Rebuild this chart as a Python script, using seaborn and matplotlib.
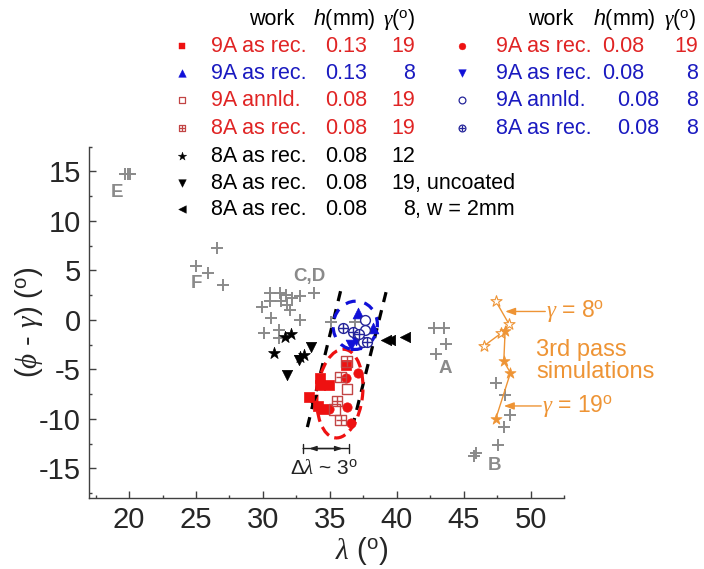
import matplotlib
matplotlib.use("Agg")
import matplotlib.pyplot as plt
from matplotlib.patches import Ellipse
from matplotlib.transforms import IdentityTransform
from matplotlib.ticker import MultipleLocator
import pandas as pd
import seaborn as sns

# ---------------- data (lambda in deg, phi-gamma in deg) ----------------
# other works (grey crosses): groups E, F, C/D, A, B
other_lam = [19.7, 19.9, 20.1,
             25.0, 25.9, 26.6, 27.0,
             30.5, 31.3, 31.7, 32.2, 32.8, 33.8, 29.95, 30.5, 31.35, 31.8, 32.0,
             30.6, 32.8, 30.1, 31.2, 31.2, 35.1, 36.9,
             42.8, 43.55, 43.7, 42.95,
             47.4, 48.1, 48.5, 48.05, 47.6, 45.9, 45.8]
other_dev = [14.7, 14.7, 14.7,
             5.4, 4.7, 7.3, 3.5,
             2.7, 2.7, 2.5, 2.2, 2.4, 2.7, 1.35, 1.9, 1.9, 1.5, 1.0,
             0.15, 0.0, -1.35, -1.0, -1.85, -0.2, -0.2,
             -0.85, -0.85, -2.4, -3.4,
             -6.4, -7.6, -9.6, -10.8, -12.6, -13.5, -13.8]
other_labels = ["E", "F", "C,D", "A", "B"]
other_label_lam = [19.1, 25.0, 33.5, 43.6, 47.3]
other_label_dev = [12.9, 3.7, 4.4, -4.9, -14.7]

# 9A as rec., h=0.13, gamma=19 (red filled squares)
sq13_lam = [36.2, 34.3, 34.3, 34.9, 33.45, 34.1, 34.5]
sq13_dev = [-4.55, -5.9, -6.6, -6.6, -7.8, -8.7, -9.0]
# 9A as rec., h=0.13, gamma=8 (blue up triangles)
tu13_lam = [37.1, 38.2]
tu13_dev = [0.7, -0.85]
# 9A annealed, h=0.08, gamma=19 (red open squares)
sqan_lam = [36.3, 35.35]
sqan_dev = [-6.95, -9.05]
# 8A as rec., h=0.08, gamma=19 (red crossed squares)
sq8a_lam = [36.25, 35.8, 35.55, 35.8]
sq8a_dev = [-4.2, -5.8, -8.2, -10.15]
# 9A as rec., h=0.08, gamma=19 (red filled circles)
ci08_lam = [37.1, 36.2, 36.3, 36.55, 34.9]
ci08_dev = [-5.35, -5.9, -8.85, -10.45, -9.0]
# 9A as rec., h=0.08, gamma=8 (blue down triangles)
td08_lam = [36.95, 36.6, 37.3]
td08_dev = [-2.0, -2.5, -2.4]
# 9A annealed, h=0.08, gamma=8 (blue open circles)
cian_lam = [37.6, 37.6, 37.45]
cian_dev = [0.0, -1.0, -2.2]
# 8A as rec., h=0.08, gamma=8 (blue crossed circles)
ci8a_lam = [35.95, 36.7, 37.2, 37.8]
ci8a_dev = [-0.85, -1.2, -1.4, -2.2]
# 8A as rec., h=0.08, gamma=12 (black stars)
st12_lam = [32.1, 31.65, 30.8, 32.8, 33.05]
st12_dev = [-1.4, -1.75, -3.3, -3.75, -3.5]
# 8A as rec., h=0.08, gamma=19 uncoated (black down triangles)
tdun_lam = [33.6, 32.7, 31.8, 33.7]
tdun_dev = [-2.75, -4.1, -5.6, -8.1]
# 8A as rec., h=0.08, gamma=8, w=2mm (black left triangles)
tlw2_lam = [39.2, 39.5, 40.6]
tlw2_dev = [-2.05, -2.05, -1.7]
# 3rd pass simulations
sim8_lam = [47.4, 48.4, 47.8, 46.55]
sim8_dev = [1.9, -0.45, -1.35, -2.6]
sim19_lam = [48.1, 48.0, 48.5, 47.4]
sim19_dev = [-1.1, -4.2, -5.35, -10.0]

# guide lines and band
guideL_lam = [35.8, 33.2]
guideL_dev = [2.9, -11.5]
guideR_lam = [39.2, 36.6]
guideR_dev = [2.8, -11.3]

# ---------------- style ----------------
RED = "#EE1111"
RED_T = "#E02424"
RED_O = "#C24545"
BLUE = "#1010D8"
BLUE_T = "#1A1AC0"
BLUE_O = "#25259A"
GREY = "#8A8A8A"
ORANGE = "#EE9435"

sns.set_theme(style="ticks")
plt.rcParams["font.family"] = ["Liberation Sans", "DejaVu Sans"]
plt.rcParams["mathtext.fontset"] = "custom"
plt.rcParams["mathtext.rm"] = "Liberation Sans"
plt.rcParams["mathtext.it"] = "Liberation Serif:italic"
plt.rcParams["mathtext.sf"] = "Liberation Sans:italic"
plt.rcParams["mathtext.bf"] = "Liberation Sans:bold"
plt.rcParams["axes.unicode_minus"] = False

W, H = 704, 569
fig = plt.figure(figsize=(W / 100, H / 100), dpi=100)
ax = fig.add_axes([89 / W, (H - 498) / H, 475 / W, 351.3 / H])
ax.set_xlim(17, 52.5)
ax.set_ylim(-18, 17.5)


def pts(target, lam, dev, marker, size, face, edge=None, lw=1.0, z=3):
    df = pd.DataFrame({"lam": lam, "dev": dev})
    kw = dict(data=df, x="lam", y="dev", marker=marker, s=size,
              linewidth=lw, ax=target, legend=False, zorder=z)
    if face == "none":
        kw.update(facecolor="none", edgecolor=edge)
    elif edge is None:
        kw.update(color=face)
    else:
        kw.update(color=face, edgecolor=edge)
    sns.scatterplot(**kw)


# guide lines
for gl, gd in [(guideL_lam, guideL_dev), (guideR_lam, guideR_dev)]:
    ln, = ax.plot(gl, gd, color="black", lw=2.3, zorder=2)
    ln.set_dashes((3.2, 2.6))


def ellipse(center, w_data, h_data, angle, color, dashes, lw=2.3):
    p0 = ax.transData.transform(center)
    px = ax.transData.transform((center[0] + 1, center[1]))[0] - p0[0]
    py = ax.transData.transform((center[0], center[1] + 1))[1] - p0[1]
    e = Ellipse(p0, w_data * px, h_data * py, angle=angle, fill=False,
                edgecolor=color, lw=lw, transform=IdentityTransform(), zorder=2)
    e.set_linestyle((0, dashes))
    ax.add_patch(e)


ellipse((35.75, -7.45), 3.4, 9.0, -6, RED, (3.4, 1.8))
ellipse((36.9, -0.55), 3.3, 4.9, -10, BLUE, (3.2, 2.8))

# grey crosses from other works
pts(ax, other_lam, other_dev, "+", 70, GREY, lw=1.4, z=2)
for t, lx, ly in zip(other_labels, other_label_lam, other_label_dev):
    ax.text(lx, ly, t, color=GREY, fontsize=13.5, fontweight="bold",
            ha="center", va="center")

# black series
pts(ax, st12_lam, st12_dev, "*", 80, "black", "black", lw=0.5)
pts(ax, tdun_lam, tdun_dev, "v", 55, "black", "black", lw=0.5)
pts(ax, tlw2_lam, tlw2_dev, "<", 55, "black", "black", lw=0.5)

# red series
pts(ax, sq13_lam, sq13_dev, "s", 55, RED, RED, lw=0.5)
pts(ax, ci08_lam, ci08_dev, "o", 45, RED, RED, lw=0.5)
pts(ax, sqan_lam, sqan_dev, "s", 55, "none", RED_O, lw=1.0, z=4)
pts(ax, sq8a_lam, sq8a_dev, "s", 55, "none", RED_O, lw=1.0, z=4)
pts(ax, sq8a_lam, sq8a_dev, "+", 55, RED_O, lw=1.0, z=4)

# blue series
pts(ax, tu13_lam, tu13_dev, "^", 60, BLUE, BLUE, lw=0.5)
pts(ax, td08_lam, td08_dev, "v", 60, BLUE, BLUE, lw=0.5)
pts(ax, cian_lam, cian_dev, "o", 50, "white", BLUE_O, lw=1.0, z=4)
pts(ax, ci8a_lam, ci8a_dev, "o", 50, "white", BLUE_O, lw=1.0, z=4)
pts(ax, ci8a_lam, ci8a_dev, "+", 50, BLUE_O, lw=1.0, z=4)

# simulations
sns.lineplot(x=sim8_lam, y=sim8_dev, sort=False, estimator=None,
             color=ORANGE, lw=1.0, ax=ax, zorder=3)
sns.lineplot(x=sim19_lam, y=sim19_dev, sort=False, estimator=None,
             color=ORANGE, lw=1.0, ax=ax, zorder=3)
pts(ax, sim8_lam, sim8_dev, "*", 70, "white", ORANGE, lw=0.8, z=4)
pts(ax, sim19_lam, sim19_dev, "*", 70, ORANGE, ORANGE, lw=0.5, z=4)

arrow = dict(arrowstyle="-|>,head_length=0.5,head_width=0.18",
             color=ORANGE, lw=1.0, shrinkA=0, shrinkB=0)
ax.annotate("", xy=(48.1, 0.85), xytext=(51.1, 0.85), arrowprops=arrow)
ax.annotate("", xy=(48.0, -8.7), xytext=(50.8, -8.7), arrowprops=arrow)
ax.text(51.15, 0.85, r"$\gamma$ = 8$^{\rm o}$", color=ORANGE, fontsize=16.5,
        ha="left", va="center", clip_on=False)
ax.text(50.85, -8.7, r"$\gamma$ = 19$^{\rm o}$", color=ORANGE, fontsize=16.5,
        ha="left", va="center", clip_on=False)
ax.text(50.4, -4.15, "3rd pass\nsimulations", color=ORANGE, fontsize=17,
        ha="left", va="center", linespacing=1.05, clip_on=False)

# delta-lambda marker
ax.annotate("", xy=(33.0, -13.0), xytext=(36.4, -13.0),
            arrowprops=dict(arrowstyle="|-|,widthA=0.25,widthB=0.25",
                            color="#222222", lw=1.0, shrinkA=0, shrinkB=0))
ax.annotate("", xy=(33.45, -13.0), xytext=(35.95, -13.0),
            arrowprops=dict(arrowstyle="<|-|>,head_length=0.35,head_width=0.12",
                            color="#222222", lw=1.0, shrinkA=0, shrinkB=0))
ax.text(34.55, -15.0, r"$\Delta\lambda$ ~ 3$^{\rm o}$", color="#222222",
        fontsize=15, ha="center", va="center")

# axes styling
ax.xaxis.set_major_locator(MultipleLocator(5))
ax.xaxis.set_minor_locator(MultipleLocator(2.5))
ax.yaxis.set_major_locator(MultipleLocator(5))
ax.yaxis.set_minor_locator(MultipleLocator(2.5))
ax.tick_params(which="major", direction="in", length=5, width=1,
               labelsize=21, pad=6, color="#404040")
ax.tick_params(which="minor", direction="in", length=2.5, width=1,
               color="#404040")
sns.despine(ax=ax)
for sp in ["left", "bottom"]:
    ax.spines[sp].set_color("#404040")
    ax.spines[sp].set_linewidth(1.0)
ax.set_xlabel(r"$\lambda$ ($^{\rm o}$)", fontsize=21)
ax.xaxis.set_label_coords(0.575, -0.105)
ax.set_ylabel(r"($\phi$ - $\gamma$) ($^{\rm o}$)", fontsize=21)
ax.yaxis.set_label_coords(-0.093, 0.5)

# ---------------- legend table (pixel layout) ----------------
lax = fig.add_axes([0, 0, 1, 1], zorder=5)
lax.set_xlim(0, W)
lax.set_ylim(H, 0)
lax.axis("off")
lax.patch.set_alpha(0)

LFS = 15.5


def ltxt(x, y, s, color="black", ha="left"):
    lax.text(x, y, s, color=color, fontsize=LFS, ha=ha, va="center")


# headers
for xw, xh, xg in [(249, 313, 383), (528, 593, 664)]:
    ltxt(xw, 19, "work")
    ltxt(xh, 19, r"$\mathsf{h}$(mm)")
    ltxt(xg, 19, r"$\gamma$($^{\rm o}$)")

row_y = [46, 73, 100, 128, 156, 183, 209]
left_work = ["9A as rec.", "9A as rec.", "9A annld.", "8A as rec.",
             "8A as rec.", "8A as rec.", "8A as rec."]
left_h = ["0.13", "0.13", "0.08", "0.08", "0.08", "0.08", "0.08"]
left_g = ["19", "8", "19", "19", "12", "19", "8"]
left_extra = ["", "", "", "", "", ", uncoated", ", w = 2mm"]
left_col = [RED_T, BLUE_T, RED_T, RED_T, "black", "black", "black"]
for y, w_, h_, g_, ex, c in zip(row_y, left_work, left_h, left_g, left_extra, left_col):
    ltxt(211, y, w_, c)
    ltxt(325, y, h_, c)
    ltxt(415, y, g_, c, ha="right")
    if ex:
        ltxt(415, y, ex, c)

right_work = ["9A as rec.", "9A as rec.", "9A annld.", "8A as rec."]
right_h = ["0.08", "0.08", "0.08", "0.08"]
right_hx = [602, 602, 617, 617]
right_g = ["19", "8", "8", "8"]
right_col = [RED_T, BLUE_T, BLUE_T, BLUE_T]
for y, w_, h_, hx, g_, c in zip(row_y, right_work, right_h, right_hx, right_g, right_col):
    ltxt(496, y, w_, c)
    ltxt(hx, y, h_, c)
    ltxt(698, y, g_, c, ha="right")

# legend markers
LM = 24
pts(lax, [182], [row_y[0]], "s", LM, RED, RED, lw=0.3)
pts(lax, [182], [row_y[1]], "^", LM + 6, BLUE, BLUE, lw=0.3)
pts(lax, [182], [row_y[2]], "s", LM, "none", RED_O, lw=0.9)
pts(lax, [182], [row_y[3]], "s", LM, "none", RED_O, lw=0.9)
pts(lax, [182], [row_y[3]], "+", LM, RED_O, lw=0.9)
pts(lax, [182], [row_y[4]], "*", LM + 16, "black", "black", lw=0.3)
pts(lax, [182], [row_y[5]], "v", LM + 6, "black", "black", lw=0.3)
pts(lax, [182], [row_y[6]], "<", LM + 6, "black", "black", lw=0.3)
pts(lax, [462], [row_y[0]], "o", LM, RED, RED, lw=0.3)
pts(lax, [462], [row_y[1]], "v", LM + 6, BLUE, BLUE, lw=0.3)
pts(lax, [462], [row_y[2]], "o", LM, "white", BLUE_O, lw=0.9)
pts(lax, [462], [row_y[3]], "o", LM, "white", BLUE_O, lw=0.9)
pts(lax, [462], [row_y[3]], "+", LM, BLUE_O, lw=0.9)

fig.savefig("out.png", dpi=100)
